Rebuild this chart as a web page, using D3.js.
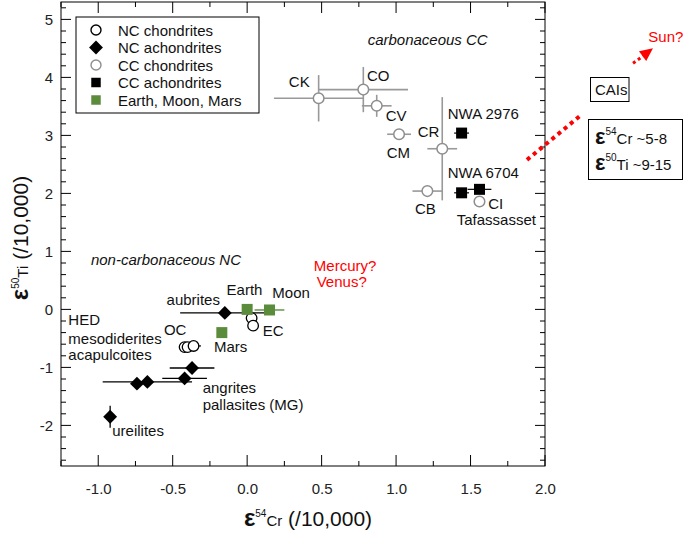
<!DOCTYPE html>
<html><head><meta charset="utf-8">
<script src="https://cdn.jsdelivr.net/npm/d3@7"></script>
<style>
body{margin:0;background:#fff;}
svg{display:block;font-family:"Liberation Sans",Arial,sans-serif;}
</style></head>
<body><svg id="c" width="685" height="534"></svg>
<script>
// ---------- data ----------
// [name, eps54Cr, eps50Ti, xErr, yErr]
const ccChondrites = [
  ["CK", 0.48, 3.64, 0.30, 0.40],
  ["CO", 0.78, 3.79, 0.30, 0.39],
  ["CV", 0.87, 3.51, 0.10, 0.19],
  ["CM", 1.02, 3.02, 0.08, 0],
  ["CR", 1.31, 2.77, 0.10, 0.89],
  ["CB", 1.21, 2.04, 0.10, 0],
  ["CI", 1.56, 1.86, 0, 0]
];
const ccAchondrites = [
  ["NWA 2976", 1.44, 3.04, 0.05, 0],
  ["NWA 6704", 1.44, 2.01, 0.05, 0],
  ["Tafassasset", 1.56, 2.07, 0.08, 0]
];
const ncChondrites = [
  ["OC", -0.42, -0.65, 0, 0],
  ["OC", -0.40, -0.65, 0, 0],
  ["OC", -0.36, -0.63, 0.05, 0],
  ["EC", 0.03, -0.15, 0, 0],
  ["EC", 0.04, -0.28, 0, 0]
];
const ncAchondrites = [
  ["aubrites", -0.15, -0.06, 0.30, 0],
  ["acapulcoites", -0.74, -1.28, 0, 0],
  ["HED", -0.67, -1.25, 0.30, 0],
  ["angrites", -0.42, -1.19, 0.15, 0],
  ["pallasites", -0.37, -1.01, 0.15, 0],
  ["ureilites", -0.92, -1.85, 0, 0.19]
];
const planets = [
  ["Earth", 0.0, 0.0, 0, 0],
  ["Moon", 0.15, -0.01, 0.10, 0],
  ["Mars", -0.17, -0.40, 0, 0]
];
const xTicks = [-1.0, -0.5, 0.0, 0.5, 1.0, 1.5, 2.0];
const yTicks = [-2, -1, 0, 1, 2, 3, 4, 5];
const legendItems = ["NC chondrites", "NC achondrites", "CC chondrites", "CC achondrites", "Earth, Moon, Mars"];
// labels: [text, x, y (data coords of left baseline), style]
const labels = [
  ["CK", 0.28, 3.84, ""], ["CO", 0.805, 3.94, ""], ["CV", 0.93, 3.24, ""],
  ["CM", 0.937, 2.61, ""], ["CR", 1.145, 2.98, ""], ["NWA 2976", 1.347, 3.28, ""],
  ["NWA 6704", 1.347, 2.27, ""], ["CB", 1.127, 1.645, ""], ["CI", 1.619, 1.726, ""],
  ["Tafassasset", 1.407, 1.455, ""],
  ["aubrites", -0.541, 0.076, ""], ["Earth", -0.138, 0.248, ""], ["Moon", 0.169, 0.188, ""],
  ["EC", 0.104, -0.453, ""], ["Mars", -0.223, -0.729, ""], ["OC", -0.559, -0.441, ""],
  ["HED", -1.201, -0.269, ""], ["mesodiderites", -1.201, -0.588, ""], ["acapulcoites", -1.201, -0.872, ""],
  ["angrites", -0.299, -1.436, ""], ["pallasites (MG)", -0.299, -1.734, ""], ["ureilites", -0.906, -2.183, ""],
  ["carbonaceous CC", 0.809, 4.56, "italic"], ["non-carbonaceous NC", -1.049, 0.765, "italic"],
  ["Mercury?", 0.448, 0.662, "red"], ["Venus?", 0.467, 0.378, "red"]
];

// ---------- layout ----------
const svg = d3.select("#c");
const L = 61, R = 545, T = 2, B = 466;
const x = d3.scaleLinear().domain([-1.25, 2.0]).range([L, R]);
const y = d3.scaleLinear().domain([-2.7, 5.3]).range([B, T]);
const GRAY = "#8e8e8e", GREEN = "#5b8c3c", RED = "#ff0000";
const hy = s => s.replace("\u2212", "-");

// frame
svg.append("rect").attr("x", L).attr("y", T).attr("width", R - L).attr("height", B - T)
  .attr("fill", "none").attr("stroke", "#000").attr("stroke-width", 1);

// ticks
const xMinor = d3.range(-1.25, 2.0001, 0.25);
const yMinor = d3.range(-2.6, 5.3001, 0.2);
const isMajX = v => Math.abs(v * 2 - Math.round(v * 2)) < 1e-6;
const isMajY = v => Math.abs(v - Math.round(v)) < 1e-6;
const tk = svg.append("g").attr("stroke", "#000").attr("stroke-width", 1);
xMinor.forEach(v => {
  const len = isMajX(v) ? 11 : 5;
  tk.append("line").attr("x1", x(v)).attr("x2", x(v)).attr("y1", B).attr("y2", B - len);
  tk.append("line").attr("x1", x(v)).attr("x2", x(v)).attr("y1", T).attr("y2", T + len);
});
yMinor.forEach(v => {
  const len = isMajY(v) ? 10 : 5;
  tk.append("line").attr("y1", y(v)).attr("y2", y(v)).attr("x1", L).attr("x2", L + len);
  tk.append("line").attr("y1", y(v)).attr("y2", y(v)).attr("x1", R).attr("x2", R - len);
});
// tick labels via d3 axes (no lines)
const xa = svg.append("g").attr("transform", `translate(0,${B})`)
  .call(d3.axisBottom(x).tickValues(xTicks).tickFormat(d => hy(d3.format(".1f")(d))).tickSize(0).tickPadding(17));
const ya = svg.append("g").attr("transform", `translate(${L},0)`)
  .call(d3.axisLeft(y).tickValues(yTicks).tickFormat(d => hy(d3.format("d")(d))).tickSize(0).tickPadding(8));
[xa, ya].forEach(g => {
  g.select(".domain").remove();
  g.selectAll("text").attr("font-size", 15).attr("fill", "#222").attr("font-family", "Liberation Sans, Arial, sans-serif");
});

// axis titles
const xt = svg.append("text").attr("x", 308).attr("y", 526).attr("text-anchor", "middle").attr("fill", "#111");
xt.append("tspan").text("ε").attr("font-size", 24).attr("font-weight", "bold");
xt.append("tspan").text("54").attr("font-size", 10).attr("dy", -9);
xt.append("tspan").text("Cr").attr("font-size", 15).attr("dy", 9);
xt.append("tspan").text(" (/10,000)").attr("font-size", 21);

const yt = svg.append("text").attr("transform", "translate(28,238) rotate(-90)").attr("text-anchor", "middle").attr("fill", "#111");
yt.append("tspan").text("ε").attr("font-size", 24).attr("font-weight", "bold");
yt.append("tspan").text("50").attr("font-size", 10).attr("dy", -9);
yt.append("tspan").text("Ti").attr("font-size", 15).attr("dy", 9);
yt.append("tspan").text(" (/10,000)").attr("font-size", 21);

// ---------- error bars ----------
function errBars(data, color, w) {
  const g = svg.append("g").attr("stroke", color).attr("stroke-width", w);
  data.forEach(d => {
    if (d[3]) g.append("line").attr("x1", x(d[1] - d[3])).attr("x2", x(d[1] + d[3])).attr("y1", y(d[2])).attr("y2", y(d[2]));
    if (d[4]) g.append("line").attr("x1", x(d[1])).attr("x2", x(d[1])).attr("y1", y(d[2] - d[4])).attr("y2", y(d[2] + d[4]));
  });
}
errBars(ccChondrites, "#999", 1.6);
errBars(ccAchondrites, "#000", 1.2);
errBars(ncAchondrites, "#000", 1.3);
errBars(ncChondrites, "#000", 1.2);
errBars(planets, GREEN, 1.4);

// ---------- points ----------
const diamond = d3.symbol(d3.symbolSquare, 96)();
const square = d3.symbol(d3.symbolSquare, 121)();
svg.append("g").selectAll("circle").data(ccChondrites).join("circle")
  .attr("cx", d => x(d[1])).attr("cy", d => y(d[2])).attr("r", 5.3)
  .attr("fill", "#fff").attr("stroke", GRAY).attr("stroke-width", 1.5);
svg.append("g").selectAll("path").data(ccAchondrites).join("path")
  .attr("d", square).attr("transform", d => `translate(${x(d[1])},${y(d[2])})`).attr("fill", "#000");
svg.append("g").selectAll("path").data(ncAchondrites).join("path")
  .attr("d", diamond).attr("transform", d => `translate(${x(d[1])},${y(d[2])}) rotate(45)`).attr("fill", "#000");
svg.append("g").selectAll("circle").data(ncChondrites).join("circle")
  .attr("cx", d => x(d[1])).attr("cy", d => y(d[2])).attr("r", 5.3)
  .attr("fill", "#fff").attr("stroke", "#000").attr("stroke-width", 1.3);
svg.append("g").selectAll("path").data(planets).join("path")
  .attr("d", square).attr("transform", d => `translate(${x(d[1])},${y(d[2])})`).attr("fill", GREEN);

// ---------- labels ----------
svg.append("g").selectAll("text").data(labels).join("text")
  .attr("x", d => x(d[1])).attr("y", d => y(d[2]))
  .attr("font-size", 15)
  .attr("font-style", d => d[3] === "italic" ? "italic" : "normal")
  .attr("fill", d => d[3] === "red" ? RED : "#111")
  .text(d => d[0]);

// ---------- legend ----------
const lg = svg.append("g");
lg.append("rect").attr("x", 76).attr("y", 17).attr("width", 183).attr("height", 96)
  .attr("fill", "#fff").attr("stroke", "#000").attr("stroke-width", 1);
legendItems.forEach((t, i) => {
  const cy = 30 + i * 17.5, cx = 96;
  if (i === 0 || i === 2) lg.append("circle").attr("cx", cx).attr("cy", cy).attr("r", 5)
    .attr("fill", "#fff").attr("stroke", i === 0 ? "#000" : GRAY).attr("stroke-width", 1.4);
  if (i === 1) lg.append("path").attr("d", diamond).attr("transform", `translate(${cx},${cy}) rotate(45)`).attr("fill", "#000");
  if (i === 3 || i === 4) lg.append("path").attr("d", d3.symbol(d3.symbolSquare, 90)())
    .attr("transform", `translate(${cx},${cy})`).attr("fill", i === 3 ? "#000" : GREEN);
  lg.append("text").attr("x", 118).attr("y", cy + 5.5).attr("font-size", 15).attr("fill", "#111").text(t);
});

// ---------- CAI annotations (outside the axes, positioned through the scales) ----------
const ann = svg.append("g");
ann.append("line").attr("x1", x(1.879)).attr("y1", y(2.578)).attr("x2", x(2.235)).attr("y2", y(3.336))
  .attr("stroke", RED).attr("stroke-width", 4).attr("stroke-dasharray", "4,4");
ann.append("line").attr("x1", x(2.591)).attr("y1", y(4.243)).attr("x2", x(2.66)).attr("y2", y(4.37))
  .attr("stroke", RED).attr("stroke-width", 3).attr("stroke-dasharray", "3,3");
{
  const x0 = x(2.725), y0 = y(4.502);
  const ang = Math.atan2(y(4.243) - y0, x(2.591) - x0);
  const len = 13, wid = 6;
  const bx = x0 + len * Math.cos(ang), by = y0 + len * Math.sin(ang);
  const px = -Math.sin(ang) * wid, py = Math.cos(ang) * wid;
  ann.append("path").attr("d", `M${x0},${y0}L${bx + px},${by + py}L${bx - px},${by - py}Z`).attr("fill", RED);
}
ann.append("text").attr("x", x(2.694)).attr("y", y(4.616)).attr("font-size", 15).attr("fill", RED).text("Sun?");
ann.append("rect").attr("x", 590.5).attr("y", 77.5).attr("width", 38.5).attr("height", 24)
  .attr("fill", "#fff").attr("stroke", "#000").attr("stroke-width", 1);
ann.append("text").attr("x", 595).attr("y", 95).attr("font-size", 15).attr("fill", "#111").text("CAIs");
ann.append("rect").attr("x", 588.5).attr("y", 119.5).attr("width", 94).attr("height", 60)
  .attr("fill", "#fff").attr("stroke", "#000").attr("stroke-width", 1);
[["54", "Cr ~5-8", 143.5], ["50", "Ti ~9-15", 170]].forEach(r => {
  const t = ann.append("text").attr("x", 595).attr("y", r[2]).attr("fill", "#111");
  t.append("tspan").text("ε").attr("font-size", 22).attr("font-weight", "bold");
  t.append("tspan").text(r[0]).attr("font-size", 10).attr("dy", -9);
  t.append("tspan").text(r[1]).attr("font-size", 15).attr("dy", 9);
});
</script></body></html>
